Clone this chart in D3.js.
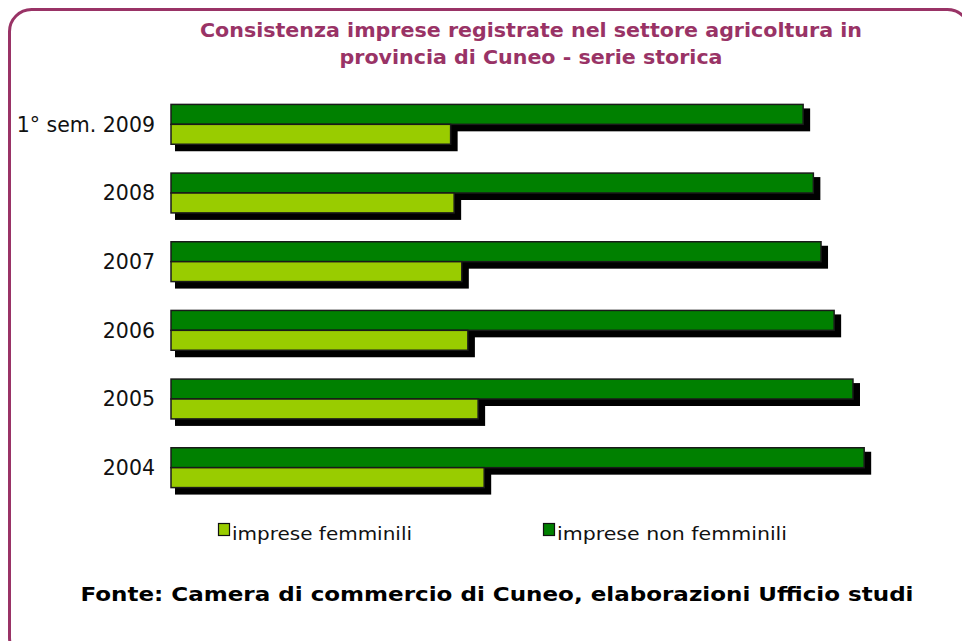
<!DOCTYPE html>
<html>
<head>
<meta charset="utf-8">
<script src="https://cdn.jsdelivr.net/npm/d3@7"></script>
<style>
  html, body { margin: 0; padding: 0; background: #fff; }
  svg { display: block; }
  text { font-family: "DejaVu Sans", Verdana, sans-serif; }
</style>
</head>
<body>
<svg id="chart" width="962" height="641"></svg>
<script>
const categories = ["1° sem. 2009", "2008", "2007", "2006", "2005", "2004"];
const seriesKeys = ["non", "fem"];
const nonFemminili = [19780, 20100, 20340, 20750, 21340, 21690];
const femminili = [8750, 8860, 9100, 9290, 9610, 9800];
const titleLines = ["Consistenza imprese registrate nel settore agricoltura in", "provincia di Cuneo - serie storica"];
const legendLabels = ["imprese femminili", "imprese non femminili"];
const sourceText = "Fonte: Camera di commercio di Cuneo, elaborazioni Ufficio studi";

const svg = d3.select("#chart");
const purple = "#993366";
const darkGreen = "#008000";
const lightGreen = "#99CC00";

// frame
svg.append("rect")
  .attr("x", 9.5).attr("y", 9.5)
  .attr("width", 960).attr("height", 650)
  .attr("rx", 22).attr("ry", 22)
  .attr("fill", "#fff")
  .attr("stroke", purple).attr("stroke-width", 3);

// title
const title = svg.append("text")
  .attr("text-anchor", "middle")
  .attr("fill", purple)
  .attr("font-weight", "bold")
  .attr("font-size", 19);
title.append("tspan").attr("x", 531).attr("y", 37).text(titleLines[0])
  .attr("textLength", 662).attr("lengthAdjust", "spacingAndGlyphs");
title.append("tspan").attr("x", 531).attr("y", 64).text(titleLines[1])
  .attr("textLength", 383).attr("lengthAdjust", "spacingAndGlyphs");

// scales
const x = d3.scaleLinear().domain([0, 24000]).range([171, 938]);
const y = d3.scaleBand().domain(categories).range([90, 502])
  .paddingInner(0.42).paddingOuter(0.21);
const sub = d3.scaleBand().domain(seriesKeys).range([0, y.bandwidth()]);

const data = categories.map((c, i) => ({ cat: c, non: nonFemminili[i], fem: femminili[i] }));

const groups = svg.append("g").selectAll("g").data(data).join("g")
  .attr("transform", d => `translate(0,${y(d.cat)})`);

// shadows
seriesKeys.forEach(k => {
  groups.append("rect")
    .attr("x", x(0) + 4)
    .attr("y", sub(k) + 4)
    .attr("width", d => x(d[k]) - x(0) + 3)
    .attr("height", sub.bandwidth() + 3)
    .attr("fill", "#000");
});
// bars
[["non", darkGreen], ["fem", lightGreen]].forEach(([k, col]) => {
  groups.append("rect")
    .attr("x", x(0))
    .attr("y", sub(k))
    .attr("width", d => x(d[k]) - x(0))
    .attr("height", sub.bandwidth())
    .attr("fill", col)
    .attr("stroke", "#1a1a1a").attr("stroke-width", 1.5);
});

// category labels
const yAxis = d3.axisLeft(y).tickSize(0).tickPadding(0);
const ax = svg.append("g").attr("transform", `translate(155,0)`).call(yAxis);
ax.select(".domain").remove();
ax.selectAll("text")
  .attr("font-size", 20.5)
  .attr("fill", "#111")
  .attr("dy", "0.35em")
  .style("font-family", '"DejaVu Sans", Verdana, sans-serif');

// legend
const legend = [
  { label: legendLabels[0], color: lightGreen, sx: 218, tx: 232, tw: 180 },
  { label: legendLabels[1], color: darkGreen, sx: 543, tx: 557, tw: 230 }
];
const lg = svg.append("g").selectAll("g").data(legend).join("g");
lg.append("rect")
  .attr("x", d => d.sx + 0.5).attr("y", 523.5)
  .attr("width", 11).attr("height", 12)
  .attr("fill", d => d.color)
  .attr("stroke", "#111").attr("stroke-width", 1.2);
lg.append("text")
  .attr("x", d => d.tx).attr("y", 540)
  .attr("font-size", 18)
  .attr("fill", "#111")
  .attr("textLength", d => d.tw).attr("lengthAdjust", "spacingAndGlyphs")
  .text(d => d.label);

// source
svg.append("text")
  .attr("x", 497).attr("y", 601)
  .attr("text-anchor", "middle")
  .attr("font-size", 19)
  .attr("font-weight", "bold")
  .attr("fill", "#000")
  .attr("textLength", 833).attr("lengthAdjust", "spacingAndGlyphs")
  .text(sourceText);
</script>
</body>
</html>
